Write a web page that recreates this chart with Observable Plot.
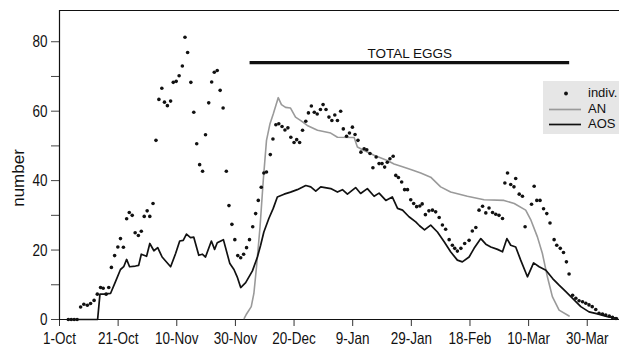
<!DOCTYPE html>
<html>
<head>
<meta charset="utf-8">
<script src="https://cdn.jsdelivr.net/npm/d3@7"></script>
<script src="https://cdn.jsdelivr.net/npm/@observablehq/plot@0.6"></script>
<style>
  html, body { margin: 0; padding: 0; background: #fff; }
  #wrap { position: relative; width: 619px; height: 349px; font-family: "Liberation Sans", Arial, sans-serif; }
  #legend { position: absolute; left: 543px; top: 81px; width: 76px; height: 53px; background: #e6e6e6; }
  #legend .row { position: absolute; left: 0; width: 76px; height: 16px; }
  #legend svg { position: absolute; left: 4px; top: 0; }
  #legend span { position: absolute; left: 45px; top: 0; font-size: 13px; line-height: 16px; color: #111; }
  #ylabel { position: absolute; left: 18px; top: 178px; transform: translate(-50%, -50%) rotate(-90deg); font-size: 17px; line-height: 17px; color: #111; white-space: nowrap; }
</style>
</head>
<body>
<div id="wrap"></div>
<script>
// ---- data (day offsets from 1-Oct) ----
const startYear = 2000; // season starting 1 October, non-leap February
const xTickDays = [0, 20, 40, 60, 80, 100, 120, 140, 160, 180];
const yMajorTicks = [0, 20, 40, 60, 80];
const yMinorTicks = [10, 30, 50, 70];
const yMax = 89;
const xMaxDay = 191;
const yLabel = "number";

const indivDay = [3,4,5,6,7.2,8.3,9.5,10.6,11.8,12.9,14,14.9,15.9,16.8,17.7,18.8,19.9,20.8,21.8,22.9,23.8,24.8,25.8,26.9,27.9,28.9,29.9,30.8,31.9,32.9,33.9,34.9,35.8,36.8,37.9,38.8,39.8,40.8,41.9,42.8,43.7,44.8,45.8,46.8,47.8,48.8,49.8,50.9,51.9,52.8,53.8,54.8,55.8,56.9,57.8,58.8,59.8,60.8,61.8,62.8,63.8,64.8,65.9,66.9,67.8,68.8,69.7,70.6,71.9,72.8,73.8,74.8,75.9,76.9,77.9,78.9,80,80.9,81.9,82.9,84,84.9,85.9,86.9,87.9,89,89.9,90.9,91.9,92.9,93.9,94.8,95.9,96.8,97.9,98.9,99.9,100.8,101.8,102.8,103.9,104.8,105.9,106.9,108,109,110,110.9,111.8,112.7,113.8,114.7,115.6,116.7,117.7,118.7,119.8,120.8,121.8,122.9,123.7,124.8,126,127.2,128.3,129.5,130.6,131.7,132.9,134,134.8,135.7,136.9,138.2,139.7,140.8,142,143.1,144.3,145.4,146.5,147.7,148.8,149.9,151.1,151.9,152.8,153.9,155,155.6,156.8,157.9,158.8,161,161.9,162.8,163.9,165.1,166.2,167.3,168.7,169.6,170.8,171.9,172.9,173.8,175,176.1,177.2,178.4,179.5,180.6,181.7,182.9,184,185.2,186.3,187.5,188.6,189.8];
const indivVal = [0,0,0,0,3.6,4.4,4.1,4.6,5.5,7.3,9.2,9.0,7.3,9.2,15,18.4,20.9,23.3,20.8,29,30.8,30,25,24.2,25.4,29.7,31.3,29.7,33.4,51.6,63.4,66.6,62.6,61.6,62.9,68.3,68.6,70.2,73,81.3,76.9,68.3,59.7,50.6,44.6,42.7,53.2,62.4,68.4,71.2,71.7,66,60.9,42.7,32.8,27.4,23,18.4,17.8,18.8,20.7,23,26.7,30.5,34.3,38.1,42.2,42.5,47.5,52,56.1,56.4,55.6,54.6,55.2,52.5,51,51.8,51,54.5,57.1,59.5,61.5,59.7,59.2,60.5,61.9,60.5,58.3,57.3,58.9,57.3,60,54.9,52.8,53.7,55.4,53.3,51.6,48.2,49.2,48.9,47.8,43.7,46.8,44.9,44.9,43.9,45.3,46.3,47,41.5,40.9,39.6,37.4,37.4,34.5,33.4,32.5,32.7,33.3,30.2,31.3,31.5,31,29.4,27.2,26,23,21.4,20.5,19.7,20.5,21.9,22.8,25.5,26.5,31.5,32.6,30.7,32.1,30.8,30.3,30,29.1,39.3,42.2,38.9,38.2,40.6,36.1,35.5,26.7,33.2,38.4,34.3,34.3,31.9,30.5,27.8,23,21.4,20.5,19.3,16.6,13.1,7,6.1,5.4,5.1,4.7,4.2,3.7,2.9,1.8,1.6,1.3,1,0.6,0.3];

const anDay = [63,63.8,65.4,66.3,67.2,68.4,69.5,70.6,71.8,72.9,74.6,75.7,77.1,78.8,80.5,82.3,84.5,88,92.5,94.8,100.5,101.6,103.9,107.3,111.8,114.1,117,119.8,123.2,126.6,130,133.4,139.1,144.8,151.6,155.1,159,160.8,163,164.7,166.4,168.1,170.4,173.8];
const anVal = [0.3,1.6,3.7,7.5,15.2,26.7,40.1,51.6,56.4,59.2,63.9,61.9,61.1,60.9,58.3,57.3,55.9,54.5,53.7,52.5,52.4,49.7,48.7,47.3,45.8,44.8,44,43.2,42.2,41,38.2,36.7,35.5,34.5,34.3,33.4,31.5,28.6,23.8,19,12.3,6.6,2.7,1];

const aosDay = [3,13,13.8,15.1,17.4,19.1,20.8,21.9,22.9,23.9,25.9,27,27.9,29.7,30.8,32.2,33.5,35,37.9,39.6,41,42.2,43.3,44.7,45.8,47.5,48.7,49.8,51.8,52.9,53.8,55.9,58.1,59.5,60.6,61.8,63.5,65.8,67.5,68.6,69.7,71.4,72.9,74.3,76.6,78.8,81.1,84,85.7,87.4,89.1,92.5,94.8,96.5,98.2,101,102.7,105,107.3,109,111.3,113.5,115.3,117,119.2,121.5,122.8,124.5,126.6,128.9,131.2,133.4,135.7,137.4,139.7,141.4,143.7,145.4,147.1,149.4,151.1,152.6,153.9,155.6,157.3,159.6,161.7,163.6,165.9,168.2,170.4,172.7,175,177.8,180.6,183.5,186.9,190.3];
const aosVal = [0,0,7.3,7.3,7.5,10.9,14.4,15.2,17.3,15.2,15.4,15.6,18.8,18.2,21.9,19.8,20.7,18,15.2,19,22.6,22.8,24.6,23.6,23.7,18.5,18.8,18,22.6,20.2,22.1,23,16.1,14.4,12.3,9.2,10.6,14,18,21.4,25.2,29.1,32,35.3,36.1,36.7,37.4,38.6,38.2,37,38.2,37.7,36.7,37.4,36.1,38,36.3,37.7,35.5,36.4,34.3,35.3,32,31.5,29.6,28.1,27,25.8,27.2,25.2,22.4,19.5,17.1,16.6,18,20.5,23.3,21.7,20.9,20.2,19.5,23.3,21.4,20.9,17.1,12.3,16.3,15.2,14.2,11.8,9.9,8,6.1,3.7,2.2,1.6,0.8,0.3];

const eggsLabel = "TOTAL EGGS";
const eggsStartDay = 65;
const eggsEndDay = 174;
const eggsLevel = 74;

// ---- build ----
const toDate = d => new Date(Date.UTC(startYear, 9, 1) + d * 864e5);
const indiv = indivDay.map((d, i) => ({date: toDate(d), value: indivVal[i]}));
const an = anDay.map((d, i) => ({date: toDate(d), value: anVal[i]}));
const aos = aosDay.map((d, i) => ({date: toDate(d), value: aosVal[i]}));
const eggs = [{x1: toDate(eggsStartDay), x2: toDate(eggsEndDay), xm: toDate((eggsStartDay + eggsEndDay) / 2), y: eggsLevel, label: eggsLabel}];
const fmt = d3.utcFormat("%-d-%b");

const chart = Plot.plot({
  width: 619,
  height: 349,
  marginLeft: 59,
  marginRight: 0,
  marginTop: 10,
  marginBottom: 30,
  style: {fontFamily: "Liberation Sans, Arial, sans-serif", fontSize: "13.5px", color: "#111", background: "#fff"},
  x: {type: "utc", domain: [toDate(0), toDate(xMaxDay)]},
  y: {domain: [0, yMax]},
  marks: [
    Plot.axisX(xTickDays.map(toDate), {tickSize: 7, tickPadding: 7, tickFormat: fmt, label: null, stroke: "#333", fill: "#111"}),
    Plot.axisY(yMajorTicks, {tickSize: 8, tickPadding: 4, label: null, stroke: "#444", fill: "#111"}),
    Plot.axisY(yMinorTicks, {tickSize: 8, tickFormat: () => "", label: null, stroke: "#444"}),
    Plot.ruleY([0], {stroke: "#111", strokeWidth: 1.2}),
    Plot.ruleY([yMax], {stroke: "#111", strokeWidth: 1.2}),
    Plot.ruleX([toDate(0)], {stroke: "#111", strokeWidth: 1.2}),
    Plot.ruleY(eggs, {x1: "x1", x2: "x2", y: "y", stroke: "#111", strokeWidth: 3.2}),
    Plot.text(eggs, {x: "xm", y: "y", text: "label", dy: -5, lineAnchor: "bottom", fontSize: 13.5, fill: "#111"}),
    Plot.line(an, {x: "date", y: "value", stroke: "#9a9a9a", strokeWidth: 1.6}),
    Plot.line(aos, {x: "date", y: "value", stroke: "#111", strokeWidth: 1.7}),
    Plot.dot(indiv, {x: "date", y: "value", r: 1.8, fill: "#111", stroke: "none"})
  ]
});

const wrap = document.getElementById("wrap");
wrap.appendChild(chart);

// tick labels in the reference are tall and narrow: stretch them vertically about their centre
chart.querySelectorAll('g[aria-label$="tick label"] text').forEach(t => {
  let b;
  try { b = t.getBBox(); } catch (e) { return; }
  if (!b || !b.height) return;
  const cy = b.y + b.height / 2;
  const tr = t.getAttribute("transform") || "";
  t.setAttribute("transform", `${tr} translate(0,${cy}) scale(1,1.25) translate(0,${-cy})`);
});

// y-axis title
const yl = document.createElement("div");
yl.id = "ylabel";
yl.textContent = yLabel;
wrap.appendChild(yl);

// legend
const legend = document.createElement("div");
legend.id = "legend";
const entries = [
  {label: "indiv.", kind: "dot"},
  {label: "AN", kind: "line", color: "#9a9a9a"},
  {label: "AOS", kind: "line", color: "#111"}
];
entries.forEach((e, i) => {
  const row = document.createElement("div");
  row.className = "row";
  row.style.top = (4 + i * 15.5) + "px";
  const sym = e.kind === "dot"
    ? `<svg width="36" height="16"><circle cx="19" cy="8.5" r="1.9" fill="#111"/></svg>`
    : `<svg width="36" height="16"><line x1="2" x2="34" y1="8.5" y2="8.5" stroke="${e.color}" stroke-width="1.7"/></svg>`;
  row.innerHTML = sym + `<span>${e.label}</span>`;
  legend.appendChild(row);
});
wrap.appendChild(legend);
</script>
</body>
</html>
